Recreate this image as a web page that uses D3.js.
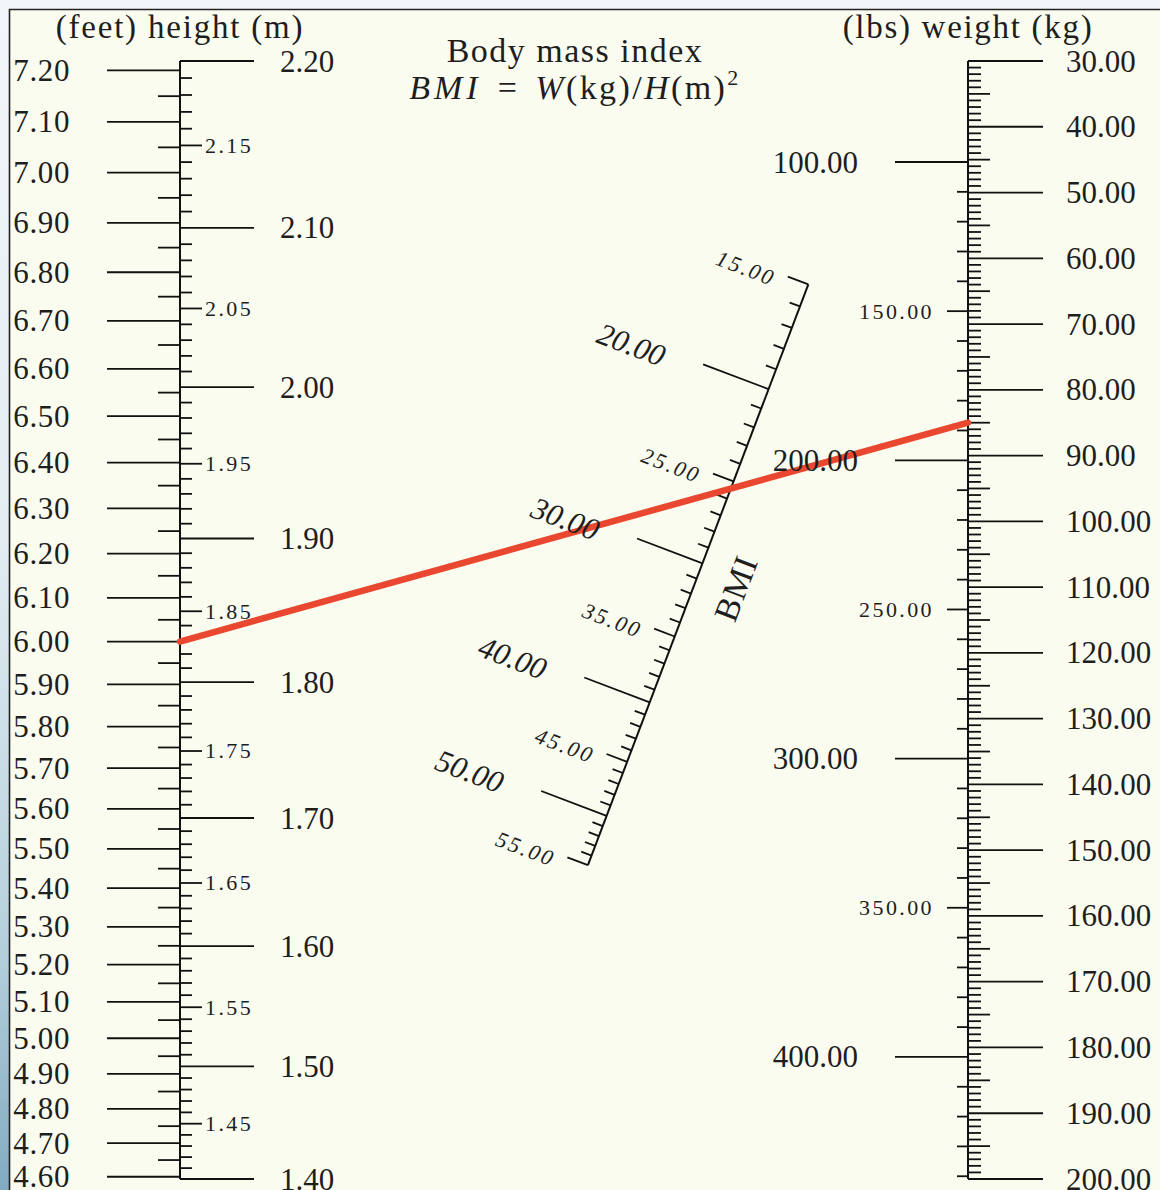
<!DOCTYPE html>
<html><head><meta charset="utf-8">
<script src="https://cdn.jsdelivr.net/npm/d3@7"></script>
<style>
html,body{margin:0;padding:0;width:1160px;height:1190px;overflow:hidden;background:#fff;}
svg{display:block}
text{font-family:"Liberation Serif","Times New Roman",serif;fill:#1e1e1e;}
</style></head><body>
<script>
// ---------------- data ----------------
const heightDomainM   = [1.40, 2.20];
const heightMajorM    = [1.40, 1.50, 1.60, 1.70, 1.80, 1.90, 2.00, 2.10, 2.20];
const heightMidM      = [1.45, 1.55, 1.65, 1.75, 1.85, 1.95, 2.05, 2.15];
const heightFeetLabels= [4.60, 4.70, 4.80, 4.90, 5.00, 5.10, 5.20, 5.30, 5.40, 5.50, 5.60, 5.70, 5.80, 5.90,
                         6.00, 6.10, 6.20, 6.30, 6.40, 6.50, 6.60, 6.70, 6.80, 6.90, 7.00, 7.10, 7.20];
const weightDomainKg  = [30, 200];
const weightMajorKg   = [30, 40, 50, 60, 70, 80, 90, 100, 110, 120, 130, 140, 150, 160, 170, 180, 190, 200];
const weightMajorLbs  = [100, 200, 300, 400];
const weightMidLbs    = [150, 250, 350];
const weightLbsRange  = [100, 440];
const bmiDomain       = [15, 55];
const bmiMajor        = [20, 30, 40, 50];
const bmiMid          = [15, 25, 35, 45, 55];
const exampleHeightFt = 6.00;
const exampleWeightKg = 85;

const FT = 0.3048, LB = 0.45359237;
const fmt = d3.format(".2f");

// ---------------- layout ----------------
const W = 1160, H = 1190;
const xL = 180, xR = 968, yTop = 61, yBot = 1179;

const svg = d3.select("body").append("svg").attr("width", W).attr("height", H);
const defs = svg.append("defs");
const grad = defs.append("linearGradient").attr("id","side").attr("x1",0).attr("y1",0).attr("x2",0).attr("y2",1);
[[0,"#f2f6f9"],[0.45,"#e3edf2"],[0.8,"#b4cfdc"],[1,"#82abc0"]].forEach(([o,c]) =>
  grad.append("stop").attr("offset",o).attr("stop-color",c));

svg.append("rect").attr("x",0).attr("y",0).attr("width",W).attr("height",9).attr("fill","#f3f6f9");
svg.append("rect").attr("x",0).attr("y",0).attr("width",9).attr("height",H).attr("fill","url(#side)");
svg.append("rect").attr("x",9).attr("y",9).attr("width",W-9).attr("height",H-9).attr("fill","#fafcf0");
svg.append("path").attr("d",`M9.5,${H} V9.5 H${W}`).attr("fill","none").attr("stroke","#222").attr("stroke-width",1.6);

// ---------------- scales ----------------
const hScale = d3.scalePow().exponent(2).domain(heightDomainM).range([yBot, yTop]);
const ftY = f => hScale(f * FT);
const wScale = d3.scaleLinear().domain(weightDomainKg).range([yTop, yBot]);
const lbY = l => wScale(l * LB);

// diagonal (Z-nomogram) BMI axis between the zero points of the two outer scales
const L0 = [xL, hScale(0)], R0 = [xR, wScale(0)];
const diag = d3.scaleLinear().domain([0,1]).range([L0, R0]);
const aUnit = hScale(0) - hScale(1);
const bmiPos = b => { const p = diag(aUnit / (aUnit + (wScale(b) - wScale(0)))); return [p[0], p[1]]; };
const dx = R0[0]-L0[0], dy = R0[1]-L0[1], dl = Math.hypot(dx,dy);
const u = [dx/dl, dy/dl];                 // direction up along the BMI axis
const nv = [-Math.abs(dy)/dl, -Math.abs(dx)/dl]; // perpendicular, pointing left/up
const angle = Math.atan2(-nv[1], -nv[0]) * 180 / Math.PI;

const gT = svg.append("g").attr("stroke","#111").attr("stroke-width",1.8).attr("fill","none");
const gLine = svg.append("g");
const gLab = svg.append("g");

function htick(x, y, x2){ gT.append("line").attr("x1",x).attr("y1",y).attr("x2",x2).attr("y2",y); }

// ---------------- left axis: height ----------------
gT.append("line").attr("x1",xL).attr("y1",yTop).attr("x2",xL).attr("y2",yBot).attr("stroke-width",2);
d3.range(140, 221).forEach(i => {
  const len = (i % 10 === 0) ? 74 : (i % 5 === 0 ? 22 : 12);
  htick(xL, hScale(i/100), xL + len);
});
heightMajorM.forEach(m => gLab.append("text").attr("x",280).attr("y",hScale(m)).attr("dy","0.34em")
  .attr("font-size",31).text(fmt(m)));
heightMidM.forEach(m => gLab.append("text").attr("x",205).attr("y",hScale(m)).attr("dy","0.34em")
  .attr("font-size",22).attr("letter-spacing",2.4).text(fmt(m)));
d3.range(92, 145).forEach(i => {
  const len = (i % 2 === 0) ? 73 : 22;
  htick(xL - len, ftY(i/20), xL);
});
heightFeetLabels.forEach(f => gLab.append("text").attr("x",70).attr("y",ftY(f)).attr("dy","0.34em")
  .attr("text-anchor","end").attr("font-size",31).attr("letter-spacing",0.6).text(fmt(f)));

// ---------------- right axis: weight ----------------
gT.append("line").attr("x1",xR).attr("y1",yTop).attr("x2",xR).attr("y2",yBot).attr("stroke-width",2);
d3.range(weightDomainKg[0], weightDomainKg[1]+1).forEach(k => {
  const len = (k % 10 === 0) ? 75 : (k % 5 === 0 ? 22 : 13);
  htick(xR, wScale(k), xR + len);
});
weightMajorKg.forEach(k => gLab.append("text").attr("x",1066).attr("y",wScale(k)).attr("dy","0.34em")
  .attr("font-size",31).text(fmt(k)));
d3.range(weightLbsRange[0], weightLbsRange[1]+1, 10).forEach(l => {
  const len = (l % 100 === 0) ? 73 : (l % 50 === 0 ? 21 : 11);
  htick(xR - len, lbY(l), xR);
});
weightMajorLbs.forEach(l => gLab.append("text").attr("x",858).attr("y",lbY(l)).attr("dy","0.34em")
  .attr("text-anchor","end").attr("font-size",31).text(fmt(l)));
weightMidLbs.forEach(l => gLab.append("text").attr("x",934).attr("y",lbY(l)).attr("dy","0.34em")
  .attr("text-anchor","end").attr("font-size",22).attr("letter-spacing",2.4).text(fmt(l)));

// ---------------- diagonal axis: BMI ----------------
const pA = bmiPos(bmiDomain[0]), pB = bmiPos(bmiDomain[1]);
gT.append("line").attr("x1",pA[0]).attr("y1",pA[1]).attr("x2",pB[0]).attr("y2",pB[1]).attr("stroke-width",2);
d3.range(bmiDomain[0], bmiDomain[1]+1).forEach(b => {
  const p = bmiPos(b);
  const len = (b % 10 === 0) ? 70 : (b % 5 === 0 ? 22 : 11);
  gT.append("line").attr("x1",p[0]).attr("y1",p[1]).attr("x2",p[0]+nv[0]*len).attr("y2",p[1]+nv[1]*len);
});
function bmiLabel(b, d, e, size, ls){
  const p = bmiPos(b);
  const x = p[0] + nv[0]*d + u[0]*e, y = p[1] + nv[1]*d + u[1]*e;
  gLab.append("text").attr("transform",`translate(${x},${y}) rotate(${angle})`)
    .attr("text-anchor","middle").attr("dy","0.34em").attr("font-size",size)
    .attr("font-style","italic").attr("letter-spacing",ls).text(fmt(b));
}
bmiMajor.forEach(b => bmiLabel(b, 144, -7, 31, 0));
bmiMid.forEach(b => bmiLabel(b, 64, -7, 22, 2.4));
{
  const p = bmiPos(30.7);
  const x = p[0] - nv[0]*40, y = p[1] - nv[1]*40;
  gLab.append("text").attr("transform",`translate(${x},${y}) rotate(${angle-90})`)
    .attr("text-anchor","middle").attr("dy","0.34em").attr("font-size",34).attr("letter-spacing",1).text("BMI");
}

// ---------------- titles ----------------
gLab.append("text").attr("x",xL).attr("y",38).attr("text-anchor","middle").attr("font-size",33)
  .attr("letter-spacing",1.8).text("(feet) height (m)");
gLab.append("text").attr("x",xR).attr("y",38).attr("text-anchor","middle").attr("font-size",33)
  .attr("letter-spacing",1.7).text("(lbs) weight (kg)");
gLab.append("text").attr("x",575).attr("y",62).attr("text-anchor","middle").attr("font-size",34)
  .attr("letter-spacing",1.5).text("Body mass index");
{
  const t = gLab.append("text").attr("x",575).attr("y",99).attr("text-anchor","middle").attr("font-size",34).attr("letter-spacing",2.4);
  t.append("tspan").attr("font-style","italic").attr("letter-spacing",4).text("BMI");
  t.append("tspan").attr("dx",16).text("=");
  t.append("tspan").attr("dx",16).attr("font-style","italic").text("W");
  t.append("tspan").text("(kg)/");
  t.append("tspan").attr("font-style","italic").text("H");
  t.append("tspan").text("(m)");
  t.append("tspan").attr("font-size",22).attr("dy",-14).text("2");
}

// ---------------- example isopleth ----------------
gLine.append("line")
  .attr("x1",xL).attr("y1",ftY(exampleHeightFt)).attr("x2",xR).attr("y2",wScale(exampleWeightKg))
  .attr("stroke","#e9472f").attr("stroke-width",6.5).attr("stroke-linecap","round");
</script>
</body></html>
